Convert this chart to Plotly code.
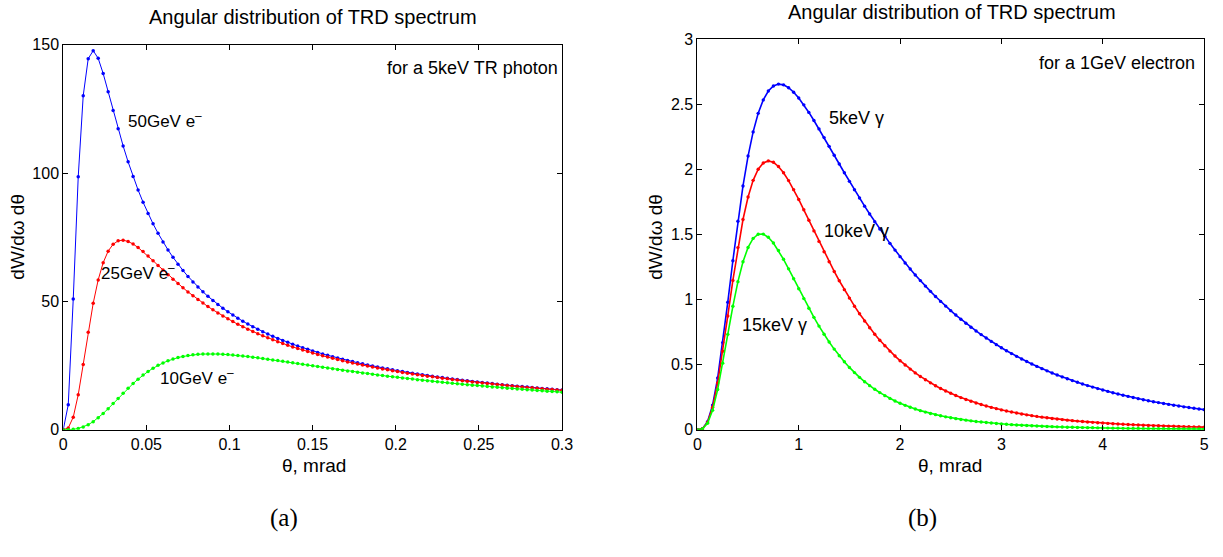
import plotly.graph_objects as go

# ---------------- data: panel (a), 5 keV TR photon ----------------
theta_a = [round(0.003 * i, 3) for i in range(101)]  # mrad

e50 = [0, 9.75, 50.92, 98.57, 130.17, 144.59, 147.73, 144.75, 138.83, 131.76,
       124.44, 117.33, 110.62, 104.40, 98.68, 93.44, 88.66, 84.27, 80.26, 76.58,
       73.19, 70.07, 67.19, 64.53, 62.06, 59.76, 57.62, 55.62, 53.75, 52.00,
       50.36, 48.81, 47.36, 45.98, 44.69, 43.46, 42.29, 41.19, 40.14, 39.14,
       38.19, 37.29, 36.42, 35.60, 34.81, 34.05, 33.33, 32.64, 31.97, 31.33,
       30.71, 30.12, 29.55, 29.00, 28.48, 27.97, 27.47, 27.00, 26.54, 26.10,
       25.67, 25.25, 24.85, 24.46, 24.08, 23.72, 23.36, 23.01, 22.68, 22.35,
       22.04, 21.73, 21.43, 21.14, 20.86, 20.58, 20.31, 20.05, 19.80, 19.55,
       19.30, 19.07, 18.84, 18.61, 18.39, 18.18, 17.97, 17.76, 17.56, 17.37,
       17.17, 16.99, 16.80, 16.62, 16.45, 16.27, 16.11, 15.94, 15.78, 15.62,
       15.46]

e25 = [0, 0.69, 4.88, 13.63, 25.46, 37.98, 49.28, 58.39, 65.09, 69.60,
       72.30, 73.60, 73.87, 73.38, 72.37, 71.01, 69.42, 67.69, 65.88, 64.05,
       62.22, 60.42, 58.66, 56.96, 55.31, 53.72, 52.20, 50.74, 49.34, 48.00,
       46.72, 45.50, 44.33, 43.21, 42.14, 41.11, 40.13, 39.19, 38.29, 37.42,
       36.60, 35.80, 35.04, 34.30, 33.60, 32.92, 32.26, 31.64, 31.03, 30.44,
       29.88, 29.34, 28.81, 28.30, 27.81, 27.34, 26.88, 26.43, 26.00, 25.58,
       25.18, 24.79, 24.41, 24.04, 23.68, 23.33, 22.99, 22.66, 22.34, 22.03,
       21.73, 21.43, 21.15, 20.87, 20.60, 20.33, 20.07, 19.82, 19.57, 19.33,
       19.10, 18.87, 18.64, 18.43, 18.21, 18.00, 17.80, 17.60, 17.40, 17.21,
       17.03, 16.84, 16.66, 16.49, 16.32, 16.15, 15.98, 15.82, 15.66, 15.51,
       15.36]

e10 = [0, 0.02, 0.14, 0.47, 1.06, 1.95, 3.15, 4.62, 6.33, 8.20,
       10.18, 12.21, 14.21, 16.15, 18.00, 19.71, 21.29, 22.71, 23.97, 25.08,
       26.04, 26.85, 27.54, 28.11, 28.56, 28.92, 29.19, 29.37, 29.49, 29.55,
       29.55, 29.50, 29.41, 29.29, 29.13, 28.95, 28.75, 28.52, 28.28, 28.03,
       27.77, 27.50, 27.22, 26.93, 26.64, 26.35, 26.06, 25.77, 25.47, 25.18,
       24.89, 24.60, 24.31, 24.03, 23.74, 23.47, 23.19, 22.92, 22.65, 22.38,
       22.12, 21.87, 21.61, 21.37, 21.12, 20.88, 20.64, 20.41, 20.18, 19.96,
       19.74, 19.52, 19.31, 19.10, 18.89, 18.69, 18.49, 18.30, 18.10, 17.92,
       17.73, 17.55, 17.37, 17.20, 17.02, 16.85, 16.69, 16.53, 16.37, 16.21,
       16.05, 15.90, 15.75, 15.60, 15.46, 15.32, 15.18, 15.04, 14.90, 14.77,
       14.64]

# ---------------- data: panel (b), 1 GeV electron ----------------
theta_b = [round(0.05 * i, 2) for i in range(101)]  # mrad

g5 = [0, 0.0081, 0.0614, 0.1890, 0.3966, 0.6690, 0.9790, 1.2977, 1.6008, 1.8717,
      2.1014, 2.2869, 2.4294, 2.5324, 2.6008, 2.6397, 2.6539, 2.6480, 2.6261, 2.5913,
      2.5466, 2.4944, 2.4365, 2.3745, 2.3097, 2.2431, 2.1757, 2.1079, 2.0402, 1.9733,
      1.9072, 1.8423, 1.7787, 1.7166, 1.6562, 1.5974, 1.5403, 1.4849, 1.4312, 1.3793,
      1.3291, 1.2806, 1.2337, 1.1885, 1.1449, 1.1028, 1.0623, 1.0232, 0.9855, 0.9492,
      0.9143, 0.8807, 0.8483, 0.8171, 0.7871, 0.7582, 0.7304, 0.7037, 0.6780, 0.6532,
      0.6294, 0.6065, 0.5845, 0.5633, 0.5429, 0.5233, 0.5045, 0.4863, 0.4689, 0.4521,
      0.4360, 0.4204, 0.4055, 0.3911, 0.3773, 0.3640, 0.3512, 0.3389, 0.3271, 0.3157,
      0.3047, 0.2942, 0.2840, 0.2742, 0.2648, 0.2558, 0.2471, 0.2387, 0.2306, 0.2228,
      0.2153, 0.2081, 0.2012, 0.1945, 0.1880, 0.1818, 0.1758, 0.1701, 0.1645, 0.1592,
      0.1540]

g10 = [0, 0.0075, 0.0561, 0.1722, 0.3595, 0.6021, 0.8737, 1.1466, 1.3983, 1.6141,
       1.7868, 1.9147, 2.0003, 2.0483, 2.0640, 2.0533, 2.0215, 1.9732, 1.9127, 1.8433,
       1.7680, 1.6889, 1.6080, 1.5267, 1.4460, 1.3668, 1.2898, 1.2154, 1.1439, 1.0756,
       1.0105, 0.9486, 0.8901, 0.8348, 0.7827, 0.7336, 0.6875, 0.6442, 0.6036, 0.5656,
       0.5299, 0.4966, 0.4654, 0.4363, 0.4091, 0.3836, 0.3599, 0.3377, 0.3169, 0.2975,
       0.2795, 0.2626, 0.2468, 0.2320, 0.2182, 0.2053, 0.1933, 0.1820, 0.1714, 0.1616,
       0.1523, 0.1437, 0.1356, 0.1280, 0.1209, 0.1142, 0.1079, 0.1021, 0.0966, 0.0914,
       0.0865, 0.0820, 0.0777, 0.0736, 0.0698, 0.0662, 0.0629, 0.0597, 0.0567, 0.0539,
       0.0512, 0.0487, 0.0464, 0.0441, 0.0420, 0.0400, 0.0381, 0.0363, 0.0347, 0.0331,
       0.0315, 0.0301, 0.0288, 0.0275, 0.0262, 0.0251, 0.0240, 0.0230, 0.0220, 0.0210,
       0.0201]

g15 = [0, 0.0065, 0.0488, 0.1489, 0.3083, 0.5110, 0.7324, 0.9475, 1.1370, 1.2893,
       1.3997, 1.4690, 1.5013, 1.5020, 1.4776, 1.4338, 1.3759, 1.3086, 1.2354, 1.1593,
       1.0825, 1.0068, 0.9332, 0.8627, 0.7958, 0.7329, 0.6739, 0.6191, 0.5684, 0.5215,
       0.4783, 0.4386, 0.4022, 0.3688, 0.3383, 0.3105, 0.2850, 0.2617, 0.2405, 0.2211,
       0.2034, 0.1872, 0.1724, 0.1589, 0.1466, 0.1353, 0.1250, 0.1156, 0.1069, 0.0990,
       0.0918, 0.0851, 0.0790, 0.0733, 0.0682, 0.0634, 0.0590, 0.0550, 0.0513, 0.0478,
       0.0447, 0.0417, 0.0390, 0.0365, 0.0342, 0.0320, 0.0300, 0.0282, 0.0265, 0.0249,
       0.0234, 0.0220, 0.0207, 0.0195, 0.0184, 0.0173, 0.0163, 0.0154, 0.0146, 0.0138,
       0.0130, 0.0123, 0.0117, 0.0111, 0.0105, 0.0099, 0.0094, 0.0089, 0.0085, 0.0081,
       0.0077, 0.0073, 0.0069, 0.0066, 0.0063, 0.0060, 0.0057, 0.0054, 0.0052, 0.0050,
       0.0047]

labels_a = ["50GeV e<sup>\u2013</sup>", "25GeV e<sup>\u2013</sup>", "10GeV e<sup>\u2013</sup>"]
labels_b = ["5keV \u03b3", "10keV \u03b3", "15keV \u03b3"]
colors = ["#0000ff", "#ff0000", "#00ff00"]

W, H = 1223, 557
FONT = "Liberation Sans"
SERIF = "Liberation Serif"


def px(x):
    return x / W


def py(y):
    return 1 - y / H


fig = go.Figure()
for ys, c, name in zip([e50, e25, e10], colors, labels_a):
    fig.add_trace(go.Scatter(x=theta_a, y=ys, mode="lines+markers", name=name,
                             line=dict(color=c, width=1),
                             marker=dict(color=c, size=3.5),
                             xaxis="x", yaxis="y", showlegend=False))
for ys, c, name in zip([g5, g10, g15], colors, labels_b):
    fig.add_trace(go.Scatter(x=theta_b, y=ys, mode="lines+markers", name=name,
                             line=dict(color=c, width=1.6),
                             marker=dict(color=c, size=3.4),
                             xaxis="x2", yaxis="y2", showlegend=False))

ax_common = dict(showline=True, linecolor="black", linewidth=1, mirror="ticks",
                 ticks="inside", ticklen=5, tickcolor="black", showgrid=False,
                 zeroline=False, tickfont=dict(family=FONT, size=16, color="black"))

fig.update_layout(
    width=W, height=H, autosize=False,
    margin=dict(l=0, r=0, t=0, b=0),
    paper_bgcolor="white", plot_bgcolor="white",
    font=dict(family=FONT, color="black"),
    xaxis=dict(domain=[px(60), px(565)], range=[0, 0.3], dtick=0.05, anchor="y", **ax_common),
    yaxis=dict(domain=[py(435), py(38)], range=[0, 150], dtick=50, anchor="x", **ax_common),
    xaxis2=dict(domain=[px(702), px(1215)], range=[0, 5], dtick=1, anchor="y2", **ax_common),
    yaxis2=dict(domain=[py(435), py(32)], range=[0, 3], dtick=0.5, anchor="x2", **ax_common),
)

ann = []


def text(x, y, s, size=16, xanchor="center", angle=0, family=FONT):
    ann.append(dict(x=px(x), y=py(y), xref="paper", yref="paper", text=s, showarrow=False,
                    xanchor=xanchor, yanchor="middle", textangle=angle, borderpad=0,
                    font=dict(family=family, size=size, color="black")))


# titles
text(313, 9, "Angular distribution of TRD spectrum", size=20)
text(960, 4, "Angular distribution of TRD spectrum", size=20)
# axis titles
text(314, 472, "\u03b8, mrad", size=19)
text(958, 472, "\u03b8, mrad", size=19)
text(14, 236, "dW/d\u03c9 d\u03b8", size=19, angle=-90)
text(660, 236, "dW/d\u03c9 d\u03b8", size=19, angle=-90)
# subfigure labels
text(283, 526, "(a)", size=25, family=SERIF)
text(930, 526, "(b)", size=25, family=SERIF)
# notes (pixel positions of the text boxes)
text(562, 62, "for a 5keV TR photon", size=18, xanchor="right")
text(1207, 57, "for a 1GeV electron", size=18, xanchor="right")
# curve labels
text(125, 116, labels_a[0], size=17, xanchor="left")
text(97, 272, labels_a[1], size=17, xanchor="left")
text(157, 381, labels_a[2], size=17, xanchor="left")
text(834, 113, labels_b[0], size=18, xanchor="left")
text(829, 230, labels_b[1], size=18, xanchor="left")
text(746, 327, labels_b[2], size=18, xanchor="left")

fig.update_layout(annotations=ann)
fig.write_html("out.html")
